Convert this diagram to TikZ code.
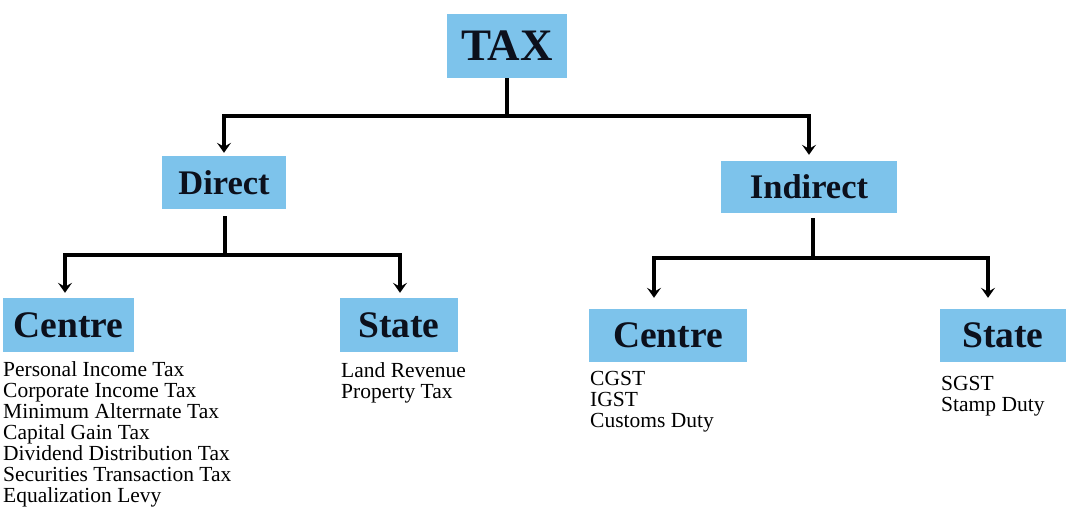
\documentclass[tikz,border=0pt]{standalone}
\usepackage{fontspec}
\setmainfont{Liberation Serif}
\usetikzlibrary{arrows.meta}

\definecolor{boxblue}{RGB}{125,195,235}
\definecolor{inkdark}{RGB}{12,16,28}

\tikzset{
  taxbox/.style={fill=boxblue,inner sep=0pt,text=inkdark,font=\bfseries},
  conn/.style={line width=3.2pt},
  arr/.style={line width=3.2pt,->,shorten >=5pt},
  itemlist/.style={inner sep=0pt,align=left,anchor=base west,font=\fontsize{21.5}{21}\selectfont}
}

\begin{document}
\begin{tikzpicture}[x=1pt,y=-1pt,>={Stealth[length=10pt,width=14pt,inset=4pt]}]
 \useasboundingbox[fill=white] (0,0) rectangle (1081,513);

 % boxes
 \node[taxbox,minimum width=120pt,minimum height=64pt,font=\bfseries\fontsize{45}{45}\selectfont] (tax) at (507,46) {TAX};
 \node[taxbox,minimum width=124pt,minimum height=53pt,font=\bfseries\fontsize{34.5}{34.5}\selectfont] (direct) at (224,182.5) {Direct};
 \node[taxbox,minimum width=176pt,minimum height=52pt,font=\bfseries\fontsize{34.5}{34.5}\selectfont] (indirect) at (809,187) {Indirect};
 \node[taxbox,minimum width=131pt,minimum height=54pt,font=\bfseries\fontsize{37.5}{37.5}\selectfont] (dcentre) at (68.5,325) {Centre};
 \node[taxbox,minimum width=118pt,minimum height=54pt,font=\bfseries\fontsize{37.5}{37.5}\selectfont] (dstate) at (399,325) {State};
 \node[taxbox,minimum width=158pt,minimum height=53pt,font=\bfseries\fontsize{37.5}{37.5}\selectfont] (icentre) at (668,335.5) {Centre};
 \node[taxbox,minimum width=126pt,minimum height=53pt,font=\bfseries\fontsize{37.5}{37.5}\selectfont] (istate) at (1003,335.5) {State};

 % lists (placed at the baseline of the last line)
 \node[itemlist] (dcentrelist) at (3,502) {Personal Income Tax\\Corporate Income Tax\\Minimum Alterrnate Tax\\Capital Gain Tax\\Dividend Distribution Tax\\Securities Transaction Tax\\Equalization Levy};
 \node[itemlist] (dstatelist) at (341,398) {Land Revenue\\Property Tax};
 \node[itemlist] (icentrelist) at (590,427) {CGST\\IGST\\Customs Duty};
 \node[itemlist] (istatelist) at (941,411) {SGST\\Stamp Duty};

 % junctions
 \coordinate (tj) at (507,116);
 \coordinate (dj) at (225,255);
 \coordinate (ij) at (813,258);

 \draw[conn] (tax.south) -- (tj);
 \draw[arr,shorten >=3pt] (tj) -| (direct.north);
 \draw[arr,shorten >=6pt] (tj) -| (indirect.north);

 \draw[conn,shorten <=7pt] (direct.south -| dj) -- (dj);
 \draw[arr] (dj) -| ([xshift=-3.5pt]dcentre.north);
 \draw[arr] (dj) -| ([xshift=1pt]dstate.north);

 \draw[conn,shorten <=5pt] (indirect.south -| ij) -- (ij);
 \draw[arr,shorten >=11pt] (ij) -| ([xshift=-14pt]icentre.north);
 \draw[arr,shorten >=11pt] (ij) -| ([xshift=-15pt]istate.north);
\end{tikzpicture}
\end{document}
